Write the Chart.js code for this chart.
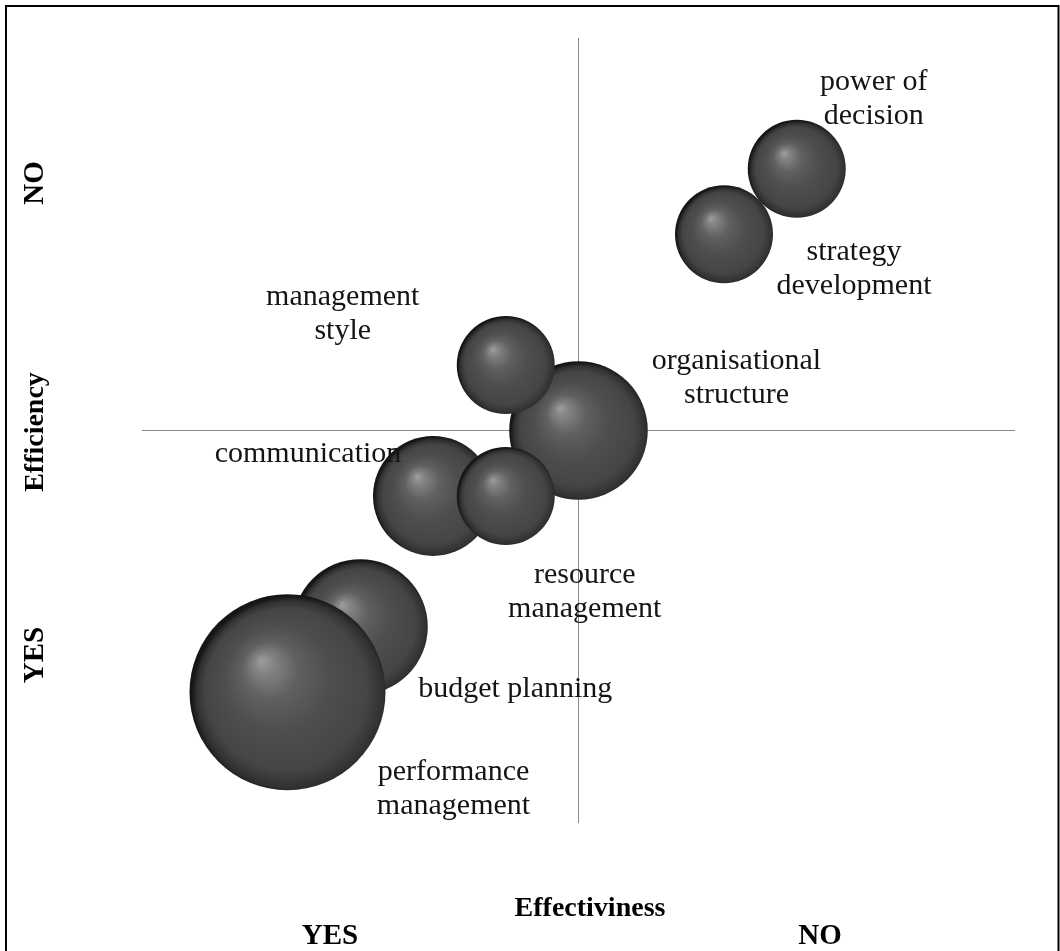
<!DOCTYPE html>
<html>
<head>
<meta charset="utf-8">
<title>Effectiviness vs Efficiency</title>
<script src="https://cdn.jsdelivr.net/npm/chart.js@4.4.1/dist/chart.umd.min.js"></script>
<style>
  html, body { margin: 0; padding: 0; background: #fff; }
  canvas { display: block; }
</style>
</head>
<body>
<canvas id="bubbleChart" width="1060" height="951"></canvas>
<script>
// === Data ===
// drawing order matters: later bubbles sit on top of earlier ones
const areas = [
    'organisational\nstructure',
    'communication',
    'management\nstyle',
    'resource\nmanagement',
    'power of\ndecision',
    'strategy\ndevelopment',
    'budget planning',
    'performance\nmanagement'
];
const effectiveness = [0, -2, -1, -1, 3, 2, -3, -4];
const efficiency    = [0, -1, 1, -1, 4, 3, -3, -4];
const bubbleSizes   = [2, 1.5, 1, 1, 1, 1, 1.9, 4];

// === Layout / style ===
const bubbleScale = 49; // px radius for size 1
// label position relative to bubble centre (px): [dx, dy of first baseline]
const labelOffsets = [
    [158, -62], [-125, -34], [-163, -60], [79, 87],
    [77, -79], [130, 26], [155, 70], [166, 88]
];
const serif = '"Liberation Serif", "Times New Roman", serif';

const points = areas.map((a, i) => ({
    x: effectiveness[i],
    y: efficiency[i],
    r: bubbleScale * Math.sqrt(bubbleSizes[i])
}));

// 3D-ish sphere shading
function sphereFill(c) {
    const chart = c.chart;
    if (c.type !== 'data' || !chart.chartArea) return '#444444';
    const px = chart.scales.x.getPixelForValue(c.raw.x);
    const py = chart.scales.y.getPixelForValue(c.raw.y);
    const r = c.raw.r;
    const g = chart.ctx.createRadialGradient(px - r * 0.27, py - r * 0.33, 0, px + r * 0.05, py + r * 0.05, r * 1.03);
    g.addColorStop(0, '#9e9e9e');
    g.addColorStop(0.1, '#838383');
    g.addColorStop(0.28, '#606060');
    g.addColorStop(0.52, '#4e4e4e');
    g.addColorStop(0.8, '#454545');
    g.addColorStop(0.92, '#313131');
    g.addColorStop(1, '#161616');
    return g;
}

const zeroLine = (c) => c.tick && c.tick.value === 0 ? '#8a8a8a' : 'rgba(0,0,0,0)';

const decorations = {
    id: 'decorations',
    afterDraw(chart) {
        const ctx = chart.ctx;
        ctx.save();

        // outer frame
        ctx.strokeStyle = '#000';
        ctx.lineWidth = 2;
        ctx.strokeRect(6, 6, 1052.5, 1000);

        // bubble labels
        const meta = chart.getDatasetMeta(0);
        ctx.fillStyle = '#141414';
        ctx.font = '30px ' + serif;
        ctx.textAlign = 'center';
        ctx.textBaseline = 'alphabetic';
        meta.data.forEach((pt, i) => {
            const [dx, dy] = labelOffsets[i];
            areas[i].split('\n').forEach((line, k) => {
                ctx.fillText(line, pt.x + dx, pt.y + dy + k * 34);
            });
        });

        // axis titles
        ctx.fillStyle = '#000';
        ctx.font = 'bold 28px ' + serif;
        ctx.fillText('Effectiviness', 590, 916);
        ctx.font = 'bold 29px ' + serif;
        ctx.fillText('YES', 330, 944);
        ctx.fillText('NO', 820, 944);

        const vText = (txt, y, size) => {
            ctx.save();
            ctx.translate(43, y);
            ctx.rotate(-Math.PI / 2);
            ctx.font = 'bold ' + size + 'px ' + serif;
            ctx.fillText(txt, 0, 0);
            ctx.restore();
        };
        vText('NO', 183, 29);
        vText('Efficiency', 432, 28);
        vText('YES', 655, 29);

        ctx.restore();
    }
};

new Chart(document.getElementById('bubbleChart'), {
    type: 'bubble',
    data: {
        datasets: [{
            data: points,
            backgroundColor: sphereFill,
            borderWidth: 0,
            clip: false
        }]
    },
    options: {
        responsive: false,
        animation: false,
        events: [],
        layout: {
            autoPadding: false,
            padding: { left: 142, right: 45, top: 38, bottom: 128 }
        },
        plugins: { legend: { display: false }, tooltip: { enabled: false } },
        scales: {
            x: {
                type: 'linear', min: -6, max: 6,
                ticks: { display: false, stepSize: 1 },
                grid: { color: zeroLine, lineWidth: 1, drawTicks: false },
                border: { display: false }
            },
            y: {
                type: 'linear', min: -6, max: 6,
                ticks: { display: false, stepSize: 1 },
                grid: { color: zeroLine, lineWidth: 1, drawTicks: false },
                border: { display: false }
            }
        }
    },
    plugins: [decorations]
});
</script>
</body>
</html>
